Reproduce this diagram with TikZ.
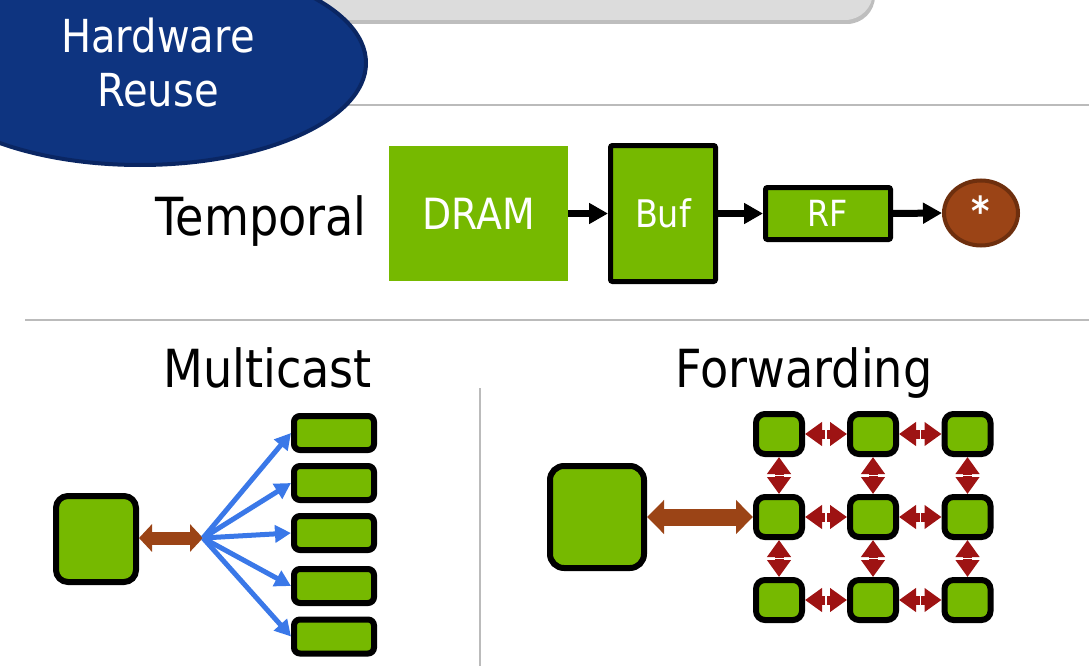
\documentclass[tikz,border=0pt]{standalone}
\usepackage{fontspec}
\setmainfont{DejaVu Sans}[FakeStretch=0.88]
\usetikzlibrary{arrows.meta,shapes.geometric,calc}
\definecolor{nvgreen}{HTML}{76B900}
\definecolor{navy}{HTML}{0E3480}
\definecolor{navyedge}{HTML}{0A2663}
\definecolor{panelgray}{HTML}{DCDCDC}
\definecolor{shadowgray}{HTML}{BEBEBE}
\definecolor{rulegray}{HTML}{BBBBBB}
\definecolor{linkbrown}{HTML}{9B4416}
\definecolor{edgebrown}{HTML}{6E2F0E}
\definecolor{castblue}{HTML}{3A78E8}
\definecolor{fwdred}{HTML}{9E1313}
\begin{document}
\begin{tikzpicture}[x=1pt,y=-1pt,
  greenbox/.style={draw=black, fill=nvgreen, line width=6pt, rounded corners=#1, inner sep=0pt},
  greenbox/.default=8pt,
  cell/.style={greenbox=9pt, minimum width=46pt, minimum height=40pt},
  slot/.style={greenbox=6pt, minimum width=80pt, minimum height=34pt},
  heading/.style={font=\fontsize{52.5}{60}\selectfont, text=black, inner sep=0pt, anchor=base west},
  blk/.style={line width=7pt, -{Triangle[length=19pt,width=20pt]}},
  cast/.style={castblue, line width=5pt, -{Triangle[length=16pt,width=17pt]}},
  fwd/.style={fwdred, line width=9pt, {Triangle[length=17pt,width=23pt]}-{Triangle[length=17pt,width=23pt]}},
  split/.style={white, line width=1.5pt},
  rulel/.style={rulegray, line width=2pt}
]
\useasboundingbox (0,0) rectangle (1089,666);
\clip (0,0) rectangle (1089,666);

% top panel and rule
\fill[shadowgray, rounded corners=28pt] (200,-60) rectangle (875,24);
\fill[panelgray, rounded corners=28pt] (200,-60) rectangle (873,20);
\draw[rulel] (300,105) -- (1089,105);

% title ellipse
\node[ellipse, draw=navyedge, fill=navy, line width=4pt, minimum width=452pt, minimum height=204pt, inner sep=0pt] (hw) at (140,63) {};
\node[text=white, align=center, inner sep=0pt, font=\fontsize{45.5}{54}\selectfont] (hwtext) at (158,62.7) {Hardware\\Reuse};

% temporal row
\node[heading] (temporal) at (155,235) {Temporal};
\node[fill=nvgreen, minimum width=179pt, minimum height=135pt, inner sep=0pt, text=white, font=\fontsize{43}{50}\selectfont] (dram) at (478.5,213.5) {DRAM};
\node[greenbox=2pt, line width=5pt, minimum width=105pt, minimum height=136pt, text=white, font=\fontsize{38}{44}\selectfont] (buf) at (663,213.5) {Buf};
\node[greenbox=2pt, line width=5pt, minimum width=125pt, minimum height=52pt, text=white, font=\fontsize{36}{42}\selectfont] (rf) at (828,213.5) {RF};
\node[ellipse, draw=edgebrown, fill=linkbrown, line width=4pt, minimum width=74pt, minimum height=65pt, inner sep=0pt, text=white, font=\bfseries\fontsize{40}{44}\selectfont] (mac) at (981,213) {\raisebox{5pt}{*}};
\draw[blk] (dram.east |- 0,213.5) -- (buf.west);
\draw[blk] (buf.east) -- (rf.west);
\draw[blk] (rf.east) -- (mac.west);

% separators
\draw[rulel] (25,320) -- (1089,320);
\draw[rulel] (480,388) -- (480,666);

% multicast
\node[heading] (multicast) at (163,387) {Multicast};
\node[greenbox=12pt, minimum width=80pt, minimum height=86pt] (mbig) at (96,539) {};
\node[slot] (mb1) at (334,433) {};
\node[slot] (mb2) at (334,483) {};
\node[slot] (mb3) at (334,533) {};
\node[slot] (mb4) at (334,586) {};
\node[slot] (mb5) at (334,636.5) {};
\coordinate (hub) at (203,538);
\draw[linkbrown, line width=13pt, {Triangle[length=13pt,width=27pt]}-{Triangle[length=13pt,width=27pt]}] (mbig.east |- hub) -- (hub);
\foreach \i in {1,...,5} {\draw[cast] (hub) -- (mb\i.west);}

% forwarding
\node[heading] (forwarding) at (675,387) {Forwarding};
\node[greenbox=14pt, minimum width=94pt, minimum height=102pt] (fbig) at (597,517) {};
\foreach \r/\y in {1/434,2/517,3/600} {
  \foreach \c/\x in {1/779,2/873,3/967.5} {
    \node[cell] (c\r\c) at (\x,\y) {};
  }
}
\draw[linkbrown, line width=17pt, {Triangle[length=17pt,width=33pt]}-{Triangle[length=17pt,width=33pt]}] (fbig.east) -- (c21.west);
\foreach \r in {1,2,3} {
  \foreach \a/\b in {1/2,2/3} {
    \draw[fwd] (c\r\a.east) -- (c\r\b.west);
    \draw[split] ($(c\r\a.east)!.5!(c\r\b.west)$) +(0,-6) -- +(0,6);
  }
}
\foreach \c in {1,2,3} {
  \foreach \a/\b in {1/2,2/3} {
    \draw[fwd] (c\a\c.south) -- (c\b\c.north);
    \draw[split] ($(c\a\c.south)!.5!(c\b\c.north)$) +(-6,0) -- +(6,0);
  }
}
\end{tikzpicture}
\end{document}
